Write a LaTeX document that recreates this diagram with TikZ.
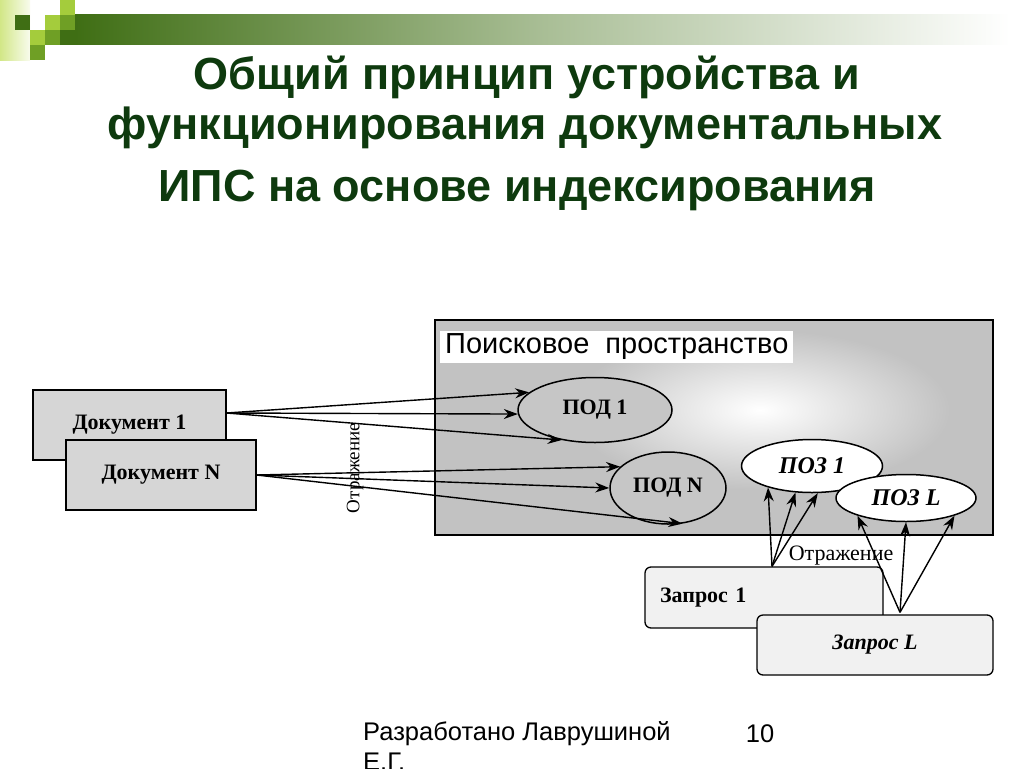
\documentclass[tikz,border=0pt]{standalone}
\usepackage{fontspec}
\setmainfont{Liberation Serif}
\setsansfont{Liberation Sans}
\usepackage{tikz}
\usetikzlibrary{positioning, arrows.meta, shapes.geometric, calc}
\definecolor{titlegreen}{HTML}{0E3A0E}
\definecolor{bargreen}{HTML}{3F6E14}
\definecolor{midgreen}{HTML}{6F9F25}
\definecolor{lightgreen}{HTML}{A4CC3C}
\definecolor{palegreen}{HTML}{D2E787}
\definecolor{spacegray}{HTML}{C2C2C2}
\definecolor{docgray}{HTML}{D6D6D6}
\definecolor{podgray}{HTML}{C6C6C6}
\definecolor{zapgray}{HTML}{F1F1F1}

\begin{document}
\begin{tikzpicture}[
  x=1pt, y=-1pt,
  docbox/.style={rectangle, draw=black, line width=1.2pt, fill=docgray,
                 font=\fontsize{22}{26}\selectfont\bfseries},
  podnode/.style={ellipse, draw=black, line width=1.5pt, fill=podgray,
                  font=\fontsize{22}{26}\selectfont\bfseries},
  poznode/.style={ellipse, draw=black, line width=1.5pt, fill=white,
                  font=\fontsize{24}{28}\selectfont\bfseries\itshape},
  zapbox/.style={rectangle, rounded corners=6pt, draw=black, line width=1.3pt,
                 fill=zapgray, font=\fontsize{22}{26}\selectfont\bfseries},
  arr/.style={-{Stealth[length=14pt, width=10pt]}, line width=1.4pt},
  titlefont/.style={font=\fontsize{45}{52}\selectfont\sffamily\bfseries, text=titlegreen},
]
\useasboundingbox (0,0) rectangle (1024,768);
\fill[white] (0,0) rectangle (1024,768);

%% Top decoration
\shade[left color=palegreen, right color=white!85!palegreen] (0,0) rectangle (30,60);
\fill[bargreen] (15,15) rectangle (30,30);
\fill[lightgreen] (30,30) rectangle (45,45);
\fill[midgreen] (30,45) rectangle (45,60);
\fill[lightgreen] (45,15) rectangle (60,30);
\fill[midgreen] (45,30) rectangle (60,45);
\fill[lightgreen] (60,0) rectangle (75,15);
\fill[midgreen] (60,15) rectangle (75,30);
\fill[bargreen] (60,30) rectangle (75,45);
\shade[left color=bargreen, right color=white, middle color=bargreen!45] (75,15) rectangle (1010,45);

%% Title
\node[titlefont] (title1) at (527,77)  {Общий принцип устройства и};
\node[titlefont] (title2) at (525,128) {функционирования документальных};
\node[titlefont] (title3) at (517,190) {ИПС на основе индексирования};

%% Search space
\node[rectangle, draw=black, line width=1.4pt, fill=spacegray,
      minimum width=558pt, minimum height=215pt] (space) at (714,427.5) {};
\shade[inner color=white, outer color=spacegray] (760,410) ellipse [x radius=190, y radius=80];
\node[anchor=west, fill=white, inner sep=3pt, inner xsep=5pt,
      font=\fontsize{29}{32}\selectfont\sffamily] (spacelbl) at (440,347) {Поисковое\ \ пространство};

%% Documents
\node[docbox, minimum width=193pt, minimum height=70pt] (doc1) at (129.5,425) {Документ 1};
\node[docbox, minimum width=190pt, minimum height=70pt] (docN) at (161,475) {Документ N};

%% Index images
\node[podnode, minimum width=154pt, minimum height=65pt] (pod1) at (595,410) {ПОД 1};
\node[podnode, minimum width=116pt, minimum height=72pt] (podN) at (668,488) {ПОД N};
\node[poznode, minimum width=141pt, minimum height=53pt] (poz1) at (812,466) {ПОЗ 1};
\node[poznode, minimum width=140pt, minimum height=47pt] (pozL) at (906,498) {ПОЗ L};

%% Queries
\node[zapbox, minimum width=238pt, minimum height=61pt, text width=208pt,
      inner xsep=15pt, align=left] (zap1) at (764,597.5) {Запрос 1};
\node[zapbox, minimum width=236pt, minimum height=60pt] (zapL) at (875,645) {\itshape Запрос L};

%% Document arrows
\coordinate (d1out) at ($(doc1.east)+(0,-12)$);
\draw[arr] (d1out) -- (pod1.165);
\draw[arr] (d1out) -- (pod1.183);
\draw[arr] (d1out) -- (pod1.222);
\draw[arr] (docN.east) -- (podN.156);
\draw[arr] (docN.east) -- (podN.west);
\draw[arr] (docN.east) -- (podN.292);

%% Query arrows
\coordinate (z1out) at ($(zap1.north)+(8,0)$);
\coordinate (zLout) at ($(zapL.north)+(25,-2)$);
\draw[arr] (z1out) -- (poz1.206);
\draw[arr] (z1out) -- (poz1.238);
\draw[arr] (z1out) -- (poz1.282);
\draw[arr] (zLout) -- (pozL.200);
\draw[arr] (zLout) -- (pozL.south);
\draw[arr] (zLout) -- (pozL.340);

%% Labels
\node[rotate=90, font=\fontsize{19}{22}\selectfont] (refl1) at (355,468) {Отражение};
\node[font=\fontsize{22}{25}\selectfont, inner sep=1pt] (refl2) at (841,556) {Отражение};

%% Footer
\node[anchor=north west, align=left, inner sep=0pt,
      font=\fontsize{25.5}{30}\selectfont\sffamily] (foot) at (363,721) {Разработано Лаврушиной\\Е.Г.};
\node[anchor=base, inner sep=0pt, font=\fontsize{25.5}{30}\selectfont\sffamily] (pagenum) at (760,742) {10};

\end{tikzpicture}
\end{document}
